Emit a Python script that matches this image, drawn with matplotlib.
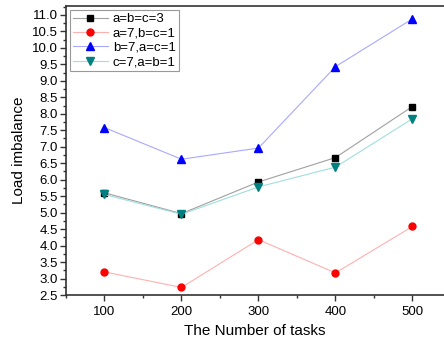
import matplotlib.pyplot as plt
from matplotlib.ticker import MultipleLocator

plt.rcParams['font.family'] = ['Liberation Sans', 'DejaVu Sans']

tasks = [100, 200, 300, 400, 500]
abc3 = [5.60, 4.97, 5.93, 6.67, 8.22]
a7 = [3.20, 2.73, 4.18, 3.17, 4.58]
b7 = [7.58, 6.62, 6.96, 9.43, 10.88]
c7 = [5.55, 4.95, 5.78, 6.38, 7.85]
labels = ['a=b=c=3', 'a=7,b=c=1', 'b=7,a=c=1', 'c=7,a=b=1']

fig = plt.figure(figsize=(4.44, 3.44), dpi=100)
ax = fig.add_axes([66 / 444, 49 / 344, 378 / 444, 289 / 344])

ax.plot(tasks, abc3, color='#a0a0a0', lw=0.8, marker='s', ms=4.5,
        mfc='black', mec='black', label=labels[0])
ax.plot(tasks, a7, color='#ffb0b0', lw=0.8, marker='o', ms=5,
        mfc='red', mec='red', label=labels[1])
ax.plot(tasks, b7, color='#a8a8ff', lw=0.8, marker='^', ms=5.5,
        mfc='blue', mec='blue', label=labels[2])
ax.plot(tasks, c7, color='#a0dede', lw=0.8, marker='v', ms=5.5,
        mfc='#008080', mec='#008080', label=labels[3])

ax.set_xlim(50, 541)
ax.set_ylim(2.5, 11.27)
ax.xaxis.set_major_locator(MultipleLocator(100))
ax.xaxis.set_minor_locator(MultipleLocator(50))
ax.yaxis.set_minor_locator(MultipleLocator(0.25))
ax.set_yticks([2.5 + 0.5 * i for i in range(18)])
ax.set_yticklabels([f'{2.5 + 0.5 * i:.1f}' for i in range(18)])

ax.spines['right'].set_visible(False)
for s in ['left', 'bottom', 'top']:
    ax.spines[s].set_color('#333333')
    ax.spines[s].set_linewidth(1.2)

ax.tick_params(which='major', direction='out', length=4, width=1, color='#333333',
               labelsize=9.5, pad=2)
ax.tick_params(which='minor', direction='out', length=2.5, width=1, color='#333333')
ax.tick_params(axis='x', pad=4)

ax.set_xlabel('The Number of tasks', fontsize=11, labelpad=4)
ax.set_ylabel('Load imbalance', fontsize=11, labelpad=4)

leg = ax.legend(loc='upper left', fontsize=9.5, fancybox=False, framealpha=1,
                edgecolor='#999999', handlelength=2.6, handletextpad=0.4,
                borderpad=0.25, labelspacing=0.15, borderaxespad=0.3)
leg.get_frame().set_linewidth(0.8)

fig.savefig('out.png', dpi=100)
